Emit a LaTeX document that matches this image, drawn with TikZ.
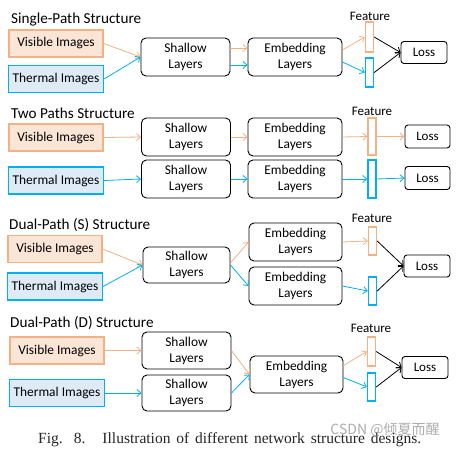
\documentclass[tikz,border=0pt]{standalone}
\usepackage{fontspec}
\setmainfont{Carlito}
\newfontfamily\capfont{Liberation Serif}
\newfontfamily\cjkfont{Noto Sans CJK SC}
\usetikzlibrary{arrows.meta,calc}
\definecolor{orgline}{HTML}{F4B183}
\definecolor{orgfill}{HTML}{FBE5D6}
\definecolor{bluline}{HTML}{00B0F0}
\definecolor{blufill}{HTML}{DEEBF7}
\tikzset{
  boxtext/.style={font=\fontsize{13.4}{16}\selectfont, align=center, inner sep=0pt},
  vis/.style={boxtext, draw=orgline, fill=orgfill, line width=1.2pt, minimum width=94pt, minimum height=27pt},
  thm/.style={boxtext, draw=bluline, fill=blufill, line width=1.2pt, minimum width=95pt, minimum height=27pt},
  layer/.style={boxtext, draw=black, line width=0.9pt, rounded corners=5pt, minimum height=38pt},
  shal/.style={layer, minimum width=89pt},
  emb/.style={layer, minimum width=94pt},
  lossbox/.style={draw=black, line width=0.9pt, rounded corners=3pt, minimum width=46pt, minimum height=22pt, inner sep=0pt, font=\fontsize{13}{15}\selectfont},
  obar/.style={draw=orgline, line width=1.4pt, minimum width=8pt, inner sep=0pt},
  bbar/.style={draw=bluline, line width=1.4pt, minimum width=8pt, inner sep=0pt},
  feat/.style={font=\fontsize{13}{15}\selectfont, inner sep=0pt},
  ttl/.style={font=\fontsize{15.2}{18}\selectfont, anchor=west, inner sep=0pt},
  arr/.style={line width=0.8pt, -{Straight Barb[length=4pt,width=7pt]}},
  oarr/.style={arr, draw=orgline},
  barr/.style={arr, draw=bluline},
  karr/.style={arr, draw=black},
}
\begin{document}
\begin{tikzpicture}[x=1pt,y=-1pt]
\useasboundingbox[fill=white] (0,0) rectangle (457,449);

% ---------- Panel 1: Single-Path ----------
\node[ttl] (title1) at (11,20) {Single-Path Structure};
\node[vis] (v1) at (56,43.5) {Visible Images};
\node[thm] (t1) at (56,79) {Thermal Images};
\node[shal] (s1) at (185.5,57) {Shallow\\Layers};
\node[emb] (e1) at (295,57) {Embedding\\Layers};
\node[obar, minimum height=30pt] (fo1) at (369.5,37) {};
\node[bbar, minimum height=29pt] (fb1) at (369.5,72.5) {};
\node[feat] (f1) at (370,16) {Feature};
\node[lossbox] (l1) at (424,52.5) {Loss};
\draw[oarr] (v1.east) -- (s1.west);
\draw[barr] (t1.east) -- (s1.west);
\draw[oarr] ([yshift=9pt]s1.east) -- ([yshift=9pt]e1.west);
\draw[barr] ([yshift=-8pt]s1.east) -- ([yshift=-8pt]e1.west);
\draw[oarr] ([yshift=7pt]e1.east) -- (fo1.west);
\draw[barr] ([yshift=-5pt]e1.east) -- (fb1.west);
\draw[karr] (fo1.east) -- (l1.west);
\draw[karr] (fb1.east) -- (l1.west);

% ---------- Panel 2: Two Paths ----------
\node[ttl] (title2) at (11,113) {Two Paths Structure};
\node[vis] (v2) at (56,137.5) {Visible Images};
\node[thm] (t2) at (56,180.5) {Thermal Images};
\node[shal] (s2a) at (186,137) {Shallow\\Layers};
\node[shal] (s2b) at (186,179) {Shallow\\Layers};
\node[emb] (e2a) at (295,137) {Embedding\\Layers};
\node[emb] (e2b) at (295,179) {Embedding\\Layers};
\node[obar, minimum height=37pt] (fo2) at (372,136.5) {};
\node[bbar, minimum height=38pt] (fb2) at (372,179) {};
\node[feat] (f2) at (372,111) {Feature};
\node[lossbox, minimum width=45pt, minimum height=23pt] (l2a) at (427.5,136.5) {Loss};
\node[lossbox, minimum width=45pt, minimum height=23pt] (l2b) at (427.5,178) {Loss};
\draw[oarr] (v2.east) -- (s2a.west);
\draw[barr] (t2.east) -- (s2b.west);
\draw[oarr] (s2a.east) -- (e2a.west);
\draw[barr] (s2b.east) -- (e2b.west);
\draw[oarr] (e2a.east) -- (fo2.west);
\draw[barr] (e2b.east) -- (fb2.west);
\draw[oarr] (fo2.east) -- (l2a.west);
\draw[barr] (fb2.east) -- (l2b.west);

% ---------- Panel 3: Dual-Path (S) ----------
\node[ttl] (title3) at (9,225) {Dual-Path (S) Structure};
\node[vis] (v3) at (55,249) {Visible Images};
\node[thm] (t3) at (55,286.5) {Thermal Images};
\node[shal, minimum width=87pt, minimum height=36pt] (s3) at (186.5,265) {Shallow\\Layers};
\node[emb, minimum width=93pt] (e3a) at (295.5,242) {Embedding\\Layers};
\node[emb, minimum width=93pt] (e3b) at (295.5,286) {Embedding\\Layers};
\node[obar, minimum height=28pt] (fo3) at (372.5,241) {};
\node[bbar, minimum height=28pt] (fb3) at (372.5,291) {};
\node[feat] (f3) at (372,218) {Feature};
\node[lossbox] (l3) at (427,266) {Loss};
\draw[oarr] (v3.east) -- (s3.west);
\draw[barr] (t3.east) -- (s3.west);
\draw[oarr] ([yshift=2pt]s3.east) -- (e3a.west);
\draw[barr] (s3.east) -- (e3b.west);
\draw[oarr] (e3a.east) -- (fo3.west);
\draw[barr] (e3b.east) -- (fb3.west);
\draw[karr] (fo3.east) -- (l3.west);
\draw[karr] (fb3.east) -- (l3.west);

% ---------- Panel 4: Dual-Path (D) ----------
\node[ttl] (title4) at (10,323) {Dual-Path (D) Structure};
\node[vis] (v4) at (57,350.5) {Visible Images};
\node[thm] (t4) at (57,393) {Thermal Images};
\node[shal, minimum height=37pt] (s4a) at (186.5,350.5) {Shallow\\Layers};
\node[shal, minimum height=36pt] (s4b) at (186.5,393) {Shallow\\Layers};
\node[emb, minimum width=93pt, minimum height=37pt] (e4) at (296.5,374.5) {Embedding\\Layers};
\node[obar, minimum height=29pt] (fo4) at (371.5,351.5) {};
\node[bbar, minimum height=28pt] (fb4) at (371.5,387) {};
\node[feat] (f4) at (371,328) {Feature};
\node[lossbox] (l4) at (425,367.5) {Loss};
\draw[oarr] (v4.east) -- (s4a.west);
\draw[barr] (t4.east) -- (s4b.west);
\draw[oarr] (s4a.east) -- (e4.west);
\draw[barr] (s4b.east) -- (e4.west);
\draw[oarr] ([yshift=9pt]e4.east) -- (fo4.west);
\draw[barr] ([yshift=-3pt]e4.east) -- (fb4.west);
\draw[karr] (fo4.east) -- (l4.west);
\draw[karr] (fb4.east) -- (l4.west);

% ---------- Caption ----------
\node[font=\capfont\fontsize{15.5}{18}\selectfont, inner sep=0pt, text=black!85, anchor=base west] (cap) at (38,443) {\hbox to 383pt{Fig. 8.\hspace{17pt}Illustration of different network structure designs.}};
\node[font=\cjkfont\fontsize{14}{16}\selectfont, inner sep=0pt, text=black!40, opacity=0.8] (wm) at (385,430) {CSDN @倾夏而醒};
\end{tikzpicture}
\end{document}
